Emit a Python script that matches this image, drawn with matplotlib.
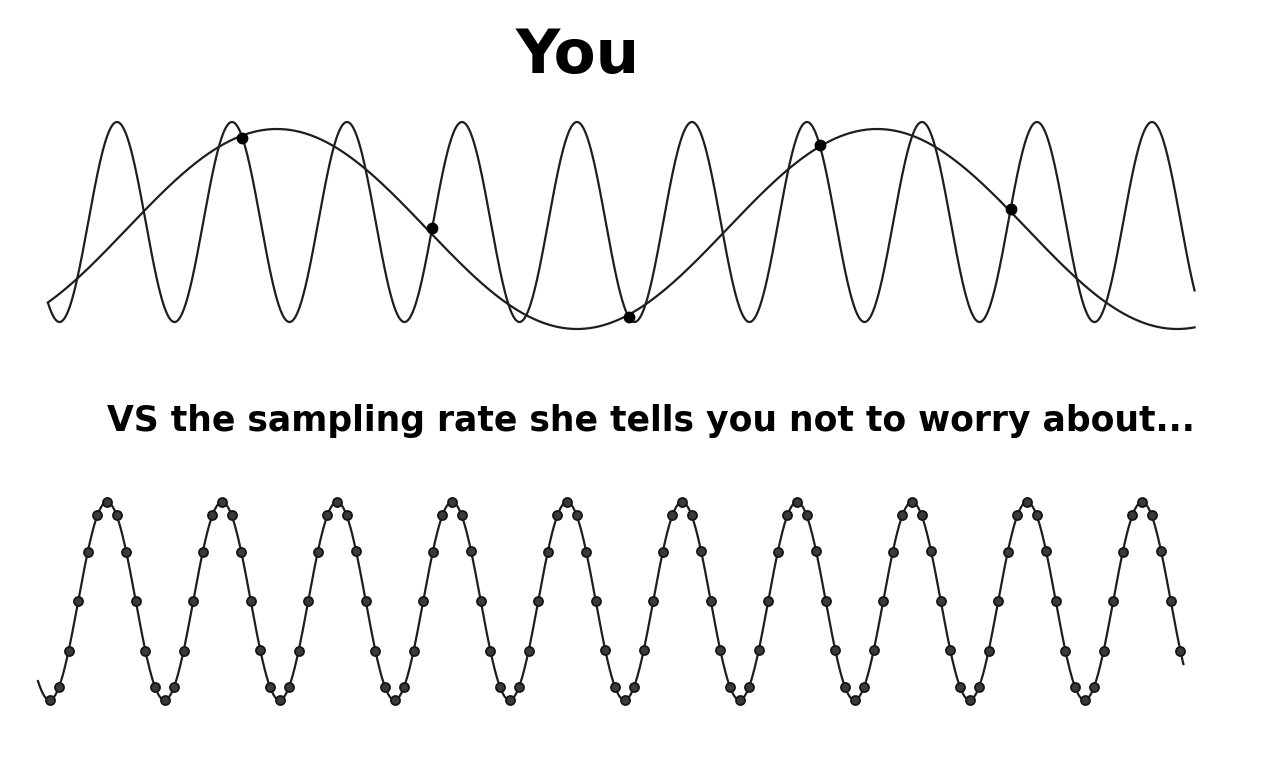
import numpy as np
import matplotlib
matplotlib.use('Agg')
import matplotlib.pyplot as plt

# time unit = one period of the fast signal
title_top = 'You'
title_mid = 'VS the sampling rate she tells you not to worry about...'

# top panel: fast signal, its alias and the few samples taken
fast_period = 1.0
fast_span = (-0.60, 9.37)
alias_period = 5.22
alias_peak = 1.39
alias_offset = -0.07
sample_times_top = [1.09, 2.74, 4.45, 6.11, 7.77]

# bottom panel: same signal, 12 samples per period
bottom_span = (-0.60, 9.36)
samples_per_period = 12
bottom_first_sample = -6
bottom_last_sample = 112

line_col = '#1e1e1e'

fig = plt.figure(figsize=(12.62, 7.78), dpi=100)

# top axes: pixel rows 100..350
ax1 = fig.add_axes([0, 1 - 350 / 778, 1, 250 / 778])
ax1.set_xlim(-117 / 115, (1262 - 117) / 115)
ax1.set_ylim((222 - 350) / 100, (222 - 100) / 100)
t = np.linspace(fast_span[0], fast_span[1], 3000)
ax1.plot(t, np.cos(2 * np.pi * t / fast_period), color=line_col, lw=1.6)
ta = np.linspace(fast_span[0], fast_span[1], 1500)
ax1.plot(ta, np.cos(2 * np.pi * (ta - alias_peak) / alias_period) + alias_offset,
         color=line_col, lw=1.6)
st = np.array(sample_times_top)
ax1.plot(st, np.cos(2 * np.pi * st / fast_period), 'o', color='black', ms=7.5)
ax1.axis('off')

# bottom axes: pixel rows 470..730
ax2 = fig.add_axes([0, 1 - 730 / 778, 1, 260 / 778])
ax2.set_xlim(-107 / 115, (1262 - 107) / 115)
ax2.set_ylim((601 - 730) / 99, (601 - 470) / 99)
tb = np.linspace(bottom_span[0], bottom_span[1], 3000)
ax2.plot(tb, np.cos(2 * np.pi * tb / fast_period), color=line_col, lw=1.6)
sb = np.arange(bottom_first_sample, bottom_last_sample + 1) / samples_per_period
ax2.plot(sb, np.cos(2 * np.pi * sb / fast_period), 'o', ms=6.5,
         mfc='#3a3a3a', mec='#151515', mew=1.3)
ax2.axis('off')

fig.text(578 / 1262, 1 - 57 / 778, title_top, ha='center', va='center',
         fontsize=44, fontweight='heavy', family='DejaVu Sans')
fig.text(651 / 1262, 1 - 431 / 778, title_mid, ha='center', va='baseline',
         fontsize=24.9, fontweight='heavy', family='DejaVu Sans')

fig.savefig('out.png', dpi=100, facecolor='white')
